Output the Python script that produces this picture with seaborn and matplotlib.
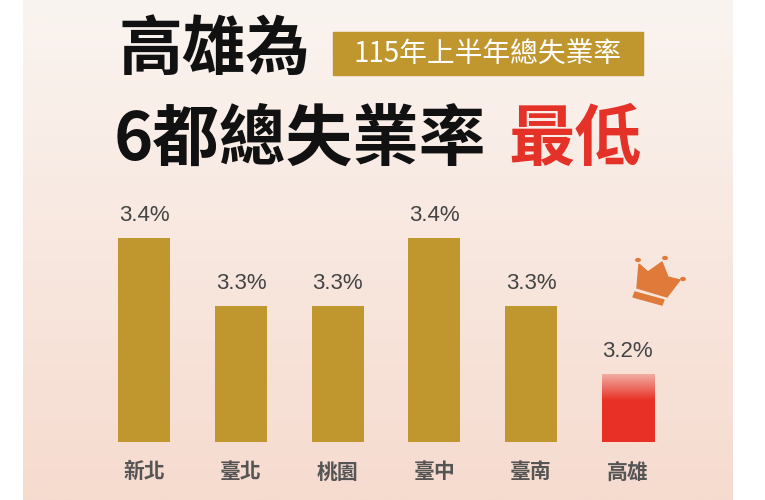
import numpy as np
import matplotlib
matplotlib.use("Agg")
import matplotlib.pyplot as plt
import seaborn as sns
import pandas as pd
from matplotlib.patches import Polygon, Rectangle, Circle

cities = ["新北", "臺北", "桃園", "臺中", "臺南", "高雄"]
rates = [3.4, 3.3, 3.3, 3.4, 3.3, 3.2]
labels = ["3.4%", "3.3%", "3.3%", "3.4%", "3.3%", "3.2%"]

sns.set_style("white")
plt.rcParams['font.family'] = ['Noto Sans CJK TC', 'DejaVu Sans']

W, H = 765, 500
fig = plt.figure(figsize=(7.65, 5.0), dpi=100)
fig.patch.set_facecolor("white")

bg = fig.add_axes([23 / W, 0, 710 / W, 1])
c_top = np.array([0xfa, 0xf4, 0xf0]) / 255
c_bot = np.array([0xf6, 0xdb, 0xcf]) / 255
t = np.linspace(0, 1, 256)[:, None, None]
grad = c_top * (1 - t) + c_bot * t
bg.imshow(grad, aspect="auto", extent=[0, 1, 0, 1])
bg.set_axis_off()

ax = fig.add_axes([96 / W, (H - 442) / H, 580 / W, 272 / H])
ax.patch.set_alpha(0)
df = pd.DataFrame({"city": cities, "rate": rates})
sns.barplot(data=df, x="city", y="rate", color="#c0962f", width=0.54,
            saturation=1, linewidth=0, ax=ax)
for s in ax.spines.values():
    s.set_visible(False)
ax.set_yticks([])
ax.set_xlabel("")
ax.set_ylabel("")
ax.tick_params(axis="x", length=0, pad=14, labelsize=15, labelcolor="#555555")
for lab in ax.get_xticklabels():
    lab.set_fontweight("bold")

p = ax.patches[-1]
p.set_facecolor("none")
x0, w = p.get_x(), p.get_width()
red = np.array([0xe8, 0x30, 0x26]) / 255
tt = np.linspace(0, 1, 128)
rgba = np.zeros((128, 1, 4))
rgba[:, 0, :3] = red
rgba[:, 0, 3] = np.clip(0.3 + tt * 1.8, 0, 1)
ax.imshow(rgba, extent=[x0, x0 + w, 3.1, rates[-1]], aspect="auto",
          origin="upper", zorder=3)
ax.set_xlim(-0.5, 5.5)
ax.set_ylim(3.1, 3.5)

for i, (v, l) in enumerate(zip(rates, labels)):
    ax.text(i, v + 0.018, l, ha="center", va="bottom", fontsize=16,
            color="#444444", family=["Liberation Sans"])

def fx(x): return x / W
def fy(y): return 1 - y / H
orange = "#e07a3a"
crown = [(637, 288), (639, 264), (648, 272), (662, 262), (668, 277), (680, 280), (667, 297)]
fig.patches.append(Polygon([(fx(a), fy(b)) for a, b in crown], closed=True,
                           transform=fig.transFigure, color=orange))
fig.patches.append(Polygon([(fx(a), fy(b)) for a, b in [(635, 292), (664, 300), (662, 305), (633, 297)]],
                           closed=True, transform=fig.transFigure, color=orange))
for (a, b) in [(638, 260), (665, 258), (683, 279)]:
    fig.patches.append(Circle((fx(a), fy(b)), 2.2 / W, transform=fig.transFigure, color=orange))

fig.text(fx(118), fy(50), "高雄為", fontsize=46, fontweight="bold",
         color="#111111", va="center", ha="left")
fig.patches.append(Rectangle((fx(333), fy(75)), (643 - 333) / W, 43 / H,
                             transform=fig.transFigure, color="#c0962f"))
fig.text(fx(488), fy(54), "115年上半年總失業率", fontsize=20, color="white",
         va="center", ha="center", fontweight="medium")
fig.text(fx(114), fy(140), "6都總失業率", fontsize=48, fontweight="bold",
         color="#111111", va="center", ha="left")
fig.text(fx(508), fy(140), "最低", fontsize=48, fontweight="bold",
         color="#e53228", va="center", ha="left")

fig.savefig("out.png", dpi=100)
